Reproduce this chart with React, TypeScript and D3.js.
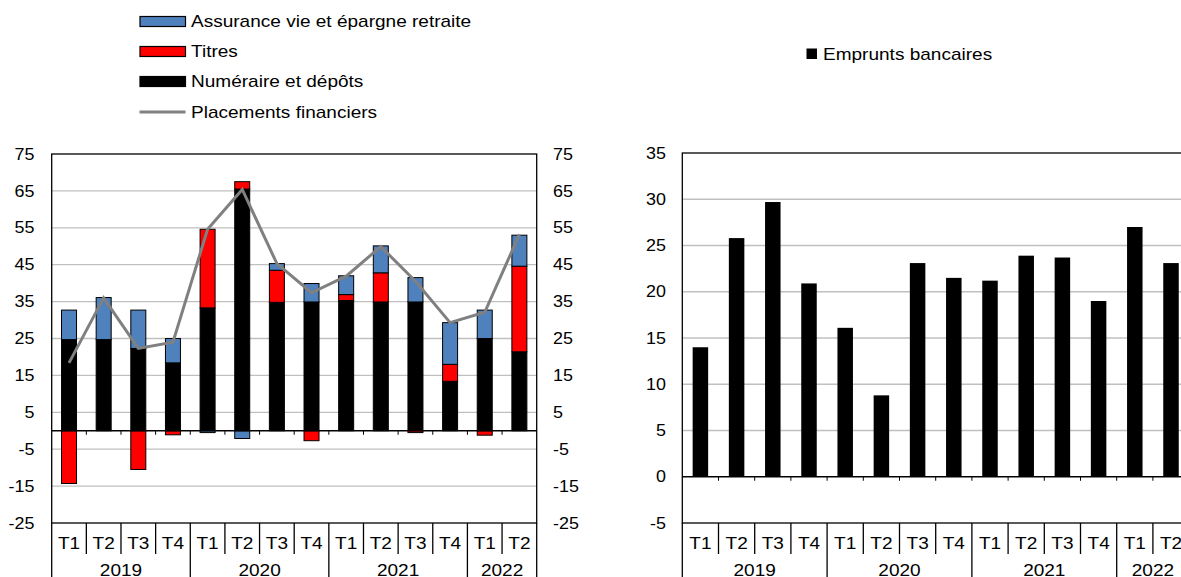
import * as d3 from "d3";
import React from "react";

// trimestres et années
const quarters = ["T1", "T2", "T3", "T4", "T1", "T2", "T3", "T4", "T1", "T2", "T3", "T4", "T1", "T2"];
const years = ["2019", "2020", "2021", "2022"];
const yearCounts = [4, 4, 4, 2];

// flux trimestriels (Md€)
const numeraire = [24.7, 24.7, 22.3, 18.4, 33.3, 65.5, 34.8, 34.9, 35.3, 34.9, 34.9, 13.4, 25.0, 21.4];
const titres = [-14.3, 0, -10.5, -1.1, 21.3, 2.0, 8.7, -2.7, 1.6, 7.9, -0.5, 4.6, -1.2, 23.2];
const assurance = [8.0, 11.4, 10.4, 6.6, -0.5, -2.1, 1.8, 5.0, 5.1, 7.3, 6.6, 11.3, 7.7, 8.4];
const placements = [18.4, 36.0, 22.3, 24.0, 54.6, 65.4, 45.3, 37.4, 41.9, 49.9, 40.5, 29.3, 32.1, 53.2];
const emprunts = [14.0, 25.8, 29.7, 20.9, 16.1, 8.8, 23.1, 21.5, 21.2, 23.9, 23.7, 19.0, 27.0, 23.1];

const leftTicks = [75, 65, 55, 45, 35, 25, 15, 5, -5, -15, -25];
const rightTicks = [35, 30, 25, 20, 15, 10, 5, 0, -5];

const FONT = "'Liberation Sans', Arial, sans-serif";
const keys = ["numeraire", "titres", "assurance"];
const colors: any = { numeraire: "#000000", titres: "#ff0000", assurance: "#4f81bd" };

// texte un peu étiré horizontalement, comme dans l'original
function Txt({ x, y, anchor, size, dy, children }: any) {
  return (
    <text transform={`translate(${x},${y}) scale(1.12,1)`} textAnchor={anchor || "start"} fontSize={size} dy={dy || "0.35em"}>
      {children}
    </text>
  );
}

function CategoryAxis({ x0, step, top, bottom }: any) {
  let els: any[] = [];
  let yearStarts = [0];
  yearCounts.forEach((c, i) => yearStarts.push(yearStarts[i] + c));
  for (let i = 0; i <= quarters.length; i++) {
    let isYear = yearStarts.indexOf(i) >= 0;
    els.push(<line key={"s" + i} x1={x0 + i * step} x2={x0 + i * step} y1={top} y2={isYear ? bottom : top + 31} stroke="#000" strokeWidth={1.3} />);
  }
  quarters.forEach((q, i) => {
    els.push(<Txt key={"q" + i} x={x0 + (i + 0.5) * step} y={top + 26} anchor="middle" size={17} dy="0">{q}</Txt>);
  });
  years.forEach((yr, i) => {
    let cx = x0 + (yearStarts[i] + yearCounts[i] / 2) * step;
    els.push(<Txt key={"y" + i} x={cx} y={576} anchor="middle" size={17} dy="0">{yr}</Txt>);
  });
  return <g>{els}</g>;
}

function LeftChart() {
  const left = 51.7, right = 536.7, top = 154, bottom = 523;
  const n = quarters.length;
  const p = 1 - 15 / ((right - left) / n);
  const x = d3.scaleBand<number>().domain(d3.range(n)).range([left, right]).paddingInner(p).paddingOuter(p / 2);
  const y = d3.scaleLinear().domain([-25, 75]).range([bottom, top]);
  const step = x.step();

  const rows = quarters.map((q, i) => ({ numeraire: numeraire[i], titres: titres[i], assurance: assurance[i] }));
  const series = d3.stack<any>().keys(keys).offset(d3.stackOffsetDiverging)(rows);

  const line = d3.line<number>()
    .x((d, i) => (x(i) as number) + x.bandwidth() / 2)
    .y((d) => y(d));

  return (
    <g>
      {leftTicks.filter((t) => t !== 75 && t !== -25).map((t) => (
        <line key={t} x1={left} x2={right} y1={y(t)} y2={y(t)} stroke="#c0c0c0" strokeWidth={1.3} />
      ))}
      {series.map((s: any) => (
        <g key={s.key}>
          {s.map((d: any, i: number) => {
            const h = Math.abs(y(d[0]) - y(d[1]));
            if (h < 0.01) return null;
            return <rect key={i} x={x(i)} y={Math.min(y(d[0]), y(d[1]))} width={x.bandwidth()} height={h}
              fill={colors[s.key]} stroke="#000" strokeWidth={1} />;
          })}
        </g>
      ))}
      <line x1={left} x2={right} y1={y(0)} y2={y(0)} stroke="#000" strokeWidth={1.3} />
      {d3.range(1, n).map((i) => (
        <line key={i} x1={left + i * step} x2={left + i * step} y1={y(0)} y2={y(0) + 4} stroke="#000" strokeWidth={1} />
      ))}
      <path d={line(placements) as string} fill="none" stroke="#808080" strokeWidth={3} strokeLinejoin="miter" />
      <rect x={left} y={top} width={right - left} height={bottom - top} fill="none" stroke="#000" strokeWidth={1.3} />
      {leftTicks.map((t) => (
        <g key={t}>
          <Txt x={34.5} y={y(t)} anchor="end" size={16}>{t}</Txt>
          <Txt x={553} y={y(t)} anchor="start" size={16}>{t}</Txt>
        </g>
      ))}
      <CategoryAxis x0={left} step={step} top={bottom} bottom={580} />
    </g>
  );
}

function RightChart() {
  const left = 682.3, top = 153, bottom = 523;
  const n = quarters.length;
  const step0 = 36.2;
  const right = left + n * step0;
  const p = 1 - 15.5 / step0;
  const x = d3.scaleBand<number>().domain(d3.range(n)).range([left, right]).paddingInner(p).paddingOuter(p / 2);
  const y = d3.scaleLinear().domain([-5, 35]).range([bottom, top]);
  const step = x.step();

  return (
    <g>
      {rightTicks.filter((t) => t > 0 && t < 35).map((t) => (
        <line key={t} x1={left} x2={right} y1={y(t)} y2={y(t)} stroke="#c0c0c0" strokeWidth={1.3} />
      ))}
      {emprunts.map((v, i) => (
        <rect key={i} x={x(i)} y={y(Math.max(0, v))} width={x.bandwidth()} height={Math.abs(y(v) - y(0))} fill="#000" />
      ))}
      <line x1={left} x2={right} y1={y(0)} y2={y(0)} stroke="#000" strokeWidth={1.3} />
      {d3.range(1, n).map((i) => (
        <line key={i} x1={left + i * step} x2={left + i * step} y1={y(0)} y2={y(0) + 4} stroke="#000" strokeWidth={1} />
      ))}
      <rect x={left} y={top} width={right - left} height={bottom - top} fill="none" stroke="#000" strokeWidth={1.3} />
      {rightTicks.map((t) => (
        <Txt key={t} x={666} y={y(t)} anchor="end" size={16}>{t}</Txt>
      ))}
      <CategoryAxis x0={left} step={step} top={bottom} bottom={580} />
    </g>
  );
}

function Legends() {
  const items = [
    { label: "Assurance vie et épargne retraite", color: colors.assurance, y: 21.5 },
    { label: "Titres", color: colors.titres, y: 51.5 },
    { label: "Numéraire et dépôts", color: colors.numeraire, y: 81.5 },
  ];
  return (
    <g>
      {items.map((it) => (
        <g key={it.label}>
          <rect x={140} y={it.y - 5} width={45.5} height={10} fill={it.color} stroke="#000" strokeWidth={1.2} />
          <Txt x={191} y={it.y} size={17}>{it.label}</Txt>
        </g>
      ))}
      <line x1={139.5} x2={185.5} y1={112} y2={112} stroke="#808080" strokeWidth={3} />
      <Txt x={191} y={112} size={17}>Placements financiers</Txt>
      <rect x={806.5} y={48.5} width={10.5} height={10.5} fill="#000" />
      <Txt x={823} y={54} size={17}>Emprunts bancaires</Txt>
    </g>
  );
}

export default function App() {
  return (
    <svg width={1181} height={577} style={{ position: "absolute", left: 0, top: 0, background: "#fff" }}
      fontFamily={FONT} fill="#000">
      <rect width={1181} height={577} fill="#fff" />
      <Legends />
      <LeftChart />
      <RightChart />
    </svg>
  );
}
